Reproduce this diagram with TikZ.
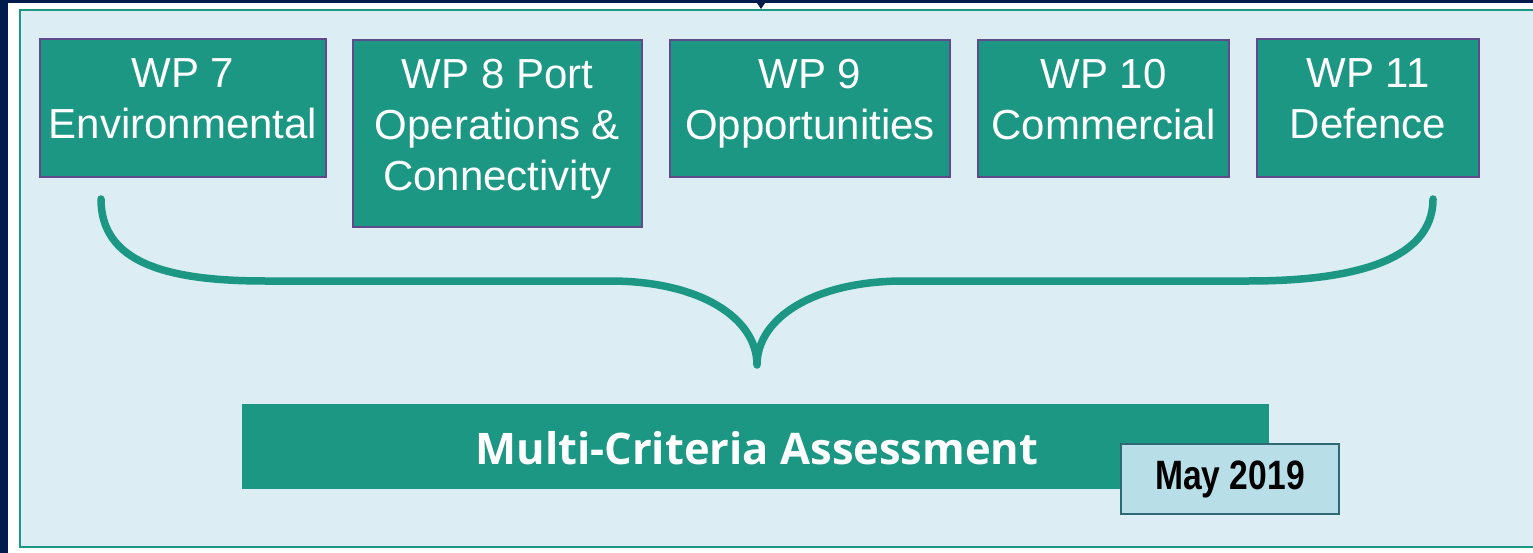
\documentclass[tikz,border=0pt]{standalone}
\usepackage{fontspec}
\setmainfont{Liberation Sans}
\newfontfamily\mcafont{Open Sans}
\usetikzlibrary{positioning}

\definecolor{navybg}{RGB}{0,27,77}
\definecolor{panelfill}{RGB}{220,237,243}
\definecolor{tealmain}{RGB}{28,151,132}
\definecolor{boxedge}{RGB}{95,75,139}
\definecolor{datefill}{RGB}{184,222,232}
\definecolor{dateedge}{RGB}{46,104,116}

\tikzset{
  wpbox/.style={rectangle,draw=boxedge,line width=2pt,fill=tealmain,inner sep=0pt,anchor=north west},
  wptext/.style={text=white,align=center,inner sep=0pt,anchor=north,
    font=\fontsize{42}{51}\selectfont},
  bracepath/.style={draw=tealmain,line width=7.5pt,line cap=round,line join=round},
}

\begin{document}
\begin{tikzpicture}[x=1pt,y=-1pt]

      % frame and panel
      \useasboundingbox (0,0) rectangle (1533,553);
      \fill[navybg] (0,0) rectangle (1533,553);
      \fill[white] (8,3) rectangle (1533,553);
      \path[fill=panelfill,draw=tealmain,line width=2.5pt] (20,10) rectangle (1540,547);
      \fill[navybg] (757,3) -- (765,3) -- (761,9) -- cycle;

      % work packages
      \path (39,38) node [wpbox,minimum width=286,minimum height=138](wp_7){};
      \path (352,39) node [wpbox,minimum width=289,minimum height=187](wp_8){};
      \path (669,39) node [wpbox,minimum width=280,minimum height=137](wp_9){};
      \path (977,39) node [wpbox,minimum width=251,minimum height=137](wp_10){};
      \path (1256,38) node [wpbox,minimum width=222,minimum height=138](wp_11){};
      \node [wptext,below=20pt of wp_7.north](txt_7){WP 7\\Environmental};
      \node [wptext,below=20pt of wp_8.north](txt_8){WP 8 Port\\Operations \&\\Connectivity};
      \node [wptext,below=20pt of wp_9.north](txt_9){WP 9\\Opportunities};
      \node [wptext,below=20pt of wp_10.north](txt_10){WP 10\\Commercial};
      \node [wptext,below=20pt of wp_11.north](txt_11){WP 11\\Defence};

      % brace
      \coordinate (brace_l) at (101,199);
      \coordinate (brace_r) at (1433,199);
      \coordinate (brace_tip) at (757,365);
      \draw[bracepath] (brace_l) .. controls (101,262) and (165,281) .. (265,281)
        -- (610,281) .. controls (700,281) and (757,318) .. (brace_tip)
        .. controls (757,318) and (814,281) .. (904,281)
        -- (1249,281) .. controls (1349,281) and (1433,262) .. (brace_r);

      % assessment
      \path (242,404) node [rectangle,fill=tealmain,inner sep=0pt,anchor=north west,
        minimum width=1027,minimum height=85](mca){};
      \node [text=white,font=\mcafont\bfseries\fontsize{43.5}{50}\selectfont,inner sep=0pt]
        (mca_txt) at (757,448){Multi-Criteria Assessment};
      \path (1120,443) node [rectangle,fill=datefill,draw=dateedge,line width=2pt,inner sep=0pt,
        anchor=north west,minimum width=218,minimum height=70](date){};
      \node [font=\bfseries\fontsize{41}{48}\selectfont,xscale=0.82,inner sep=0pt]
        (date_txt) at (date.center){May 2019};

    \end{tikzpicture}
\end{document}
